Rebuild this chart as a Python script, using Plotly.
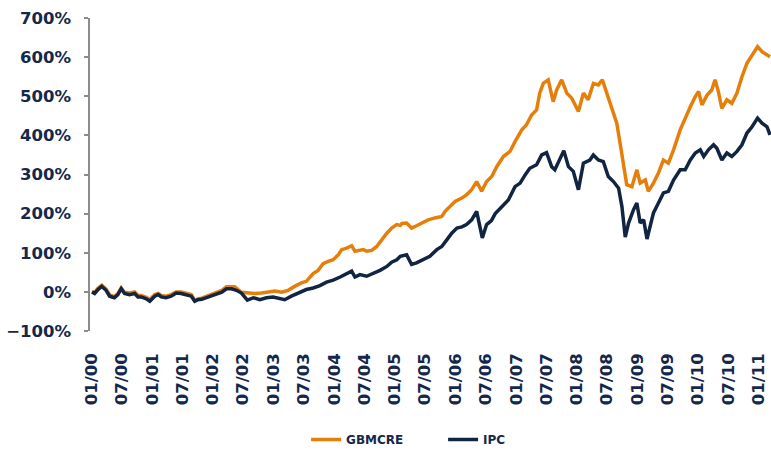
import plotly.graph_objects as go

# Cumulative return (%) since January 2000
gbmcre_dates = [
    "2000-01-03", "2000-01-19", "2000-02-08", "2000-03-02", "2000-03-28", "2000-04-18",
    "2000-05-17", "2000-06-07", "2000-06-27", "2000-07-17", "2000-08-16", "2000-09-16",
    "2000-10-06", "2000-10-26", "2000-11-25", "2000-12-16", "2001-01-15", "2001-02-05",
    "2001-02-23", "2001-03-24", "2001-04-24", "2001-05-24", "2001-06-23", "2001-07-23",
    "2001-08-23", "2001-09-13", "2001-10-02", "2001-10-25", "2001-12-03", "2002-01-13",
    "2002-02-23", "2002-03-23", "2002-05-12", "2002-06-21", "2002-08-01", "2002-09-10",
    "2002-10-20", "2002-11-29", "2003-01-09", "2003-02-19", "2003-03-29", "2003-05-08",
    "2003-06-17", "2003-07-17", "2003-08-27", "2003-09-26", "2003-10-26", "2003-11-26",
    "2003-12-26", "2004-01-26", "2004-02-15", "2004-03-16", "2004-04-15", "2004-05-05",
    "2004-06-04", "2004-06-24", "2004-07-14", "2004-08-14", "2004-09-13", "2004-10-13",
    "2004-11-13", "2004-12-12", "2005-01-12", "2005-02-02", "2005-02-12", "2005-03-12",
    "2005-04-11", "2005-05-11", "2005-06-11", "2005-07-20", "2005-08-30", "2005-10-10",
    "2005-10-30", "2005-11-29", "2005-12-29", "2006-02-08", "2006-03-08", "2006-04-08",
    "2006-05-08", "2006-06-07", "2006-07-07", "2006-08-07", "2006-09-06", "2006-10-16",
    "2006-11-25", "2006-12-25", "2007-02-04", "2007-03-04", "2007-04-04", "2007-05-04",
    "2007-05-23", "2007-06-13", "2007-07-13", "2007-08-12", "2007-09-02", "2007-10-02",
    "2007-11-02", "2007-12-02", "2008-01-11", "2008-02-10", "2008-03-10", "2008-04-10",
    "2008-05-10", "2008-06-03", "2008-06-29", "2008-07-29", "2008-08-29", "2008-09-18",
    "2008-10-08", "2008-10-28", "2008-11-28", "2008-12-28", "2009-01-17", "2009-02-17",
    "2009-03-07", "2009-04-07", "2009-05-07", "2009-06-06", "2009-07-06", "2009-08-06",
    "2009-09-15", "2009-10-15", "2009-11-15", "2009-12-15", "2010-01-04", "2010-01-24",
    "2010-02-24", "2010-03-24", "2010-04-13", "2010-05-03", "2010-05-24", "2010-06-23",
    "2010-07-23", "2010-08-23", "2010-09-22", "2010-10-22", "2010-11-22", "2010-12-25",
    "2011-01-21", "2011-02-20", "2011-03-10",
]
gbmcre_values = [
    0, -2, 9, 17, 7, -8,
    -12, -4, 10, -1, -3, 0,
    -9, -9, -14, -20, -7, -4,
    -9, -11, -7, 0, 0, -3,
    -7, -22, -18, -16, -9, -3,
    4, 13, 13, -1, -3, -4,
    -3, -1, 2, -1, 4, 14,
    23, 27, 47, 55, 72, 78,
    82, 95, 108, 112, 118, 104,
    106, 108, 104, 106, 116, 133,
    150, 163, 172, 170, 175, 176,
    163, 169, 176, 184, 189, 193,
    206, 218, 231, 240, 248, 261,
    282, 257, 282, 295, 320, 346,
    359, 384, 414, 427, 452, 465,
    508, 533, 542, 486, 516, 542,
    508, 495, 461, 508, 491, 533,
    529, 542, 508, 465, 431, 380,
    320, 274, 269, 312, 278, 286,
    257, 278, 304, 337, 329, 363,
    414, 444, 473, 499, 512, 478,
    503, 516, 542, 512, 469, 491,
    482, 508, 550, 584, 605, 627,
    614, 605, 601,
]

ipc_dates = [
    "2000-01-03", "2000-01-19", "2000-02-08", "2000-03-02", "2000-03-28", "2000-04-18",
    "2000-05-17", "2000-06-07", "2000-06-27", "2000-07-17", "2000-08-16", "2000-09-16",
    "2000-10-06", "2000-10-26", "2000-11-25", "2000-12-16", "2001-01-15", "2001-02-05",
    "2001-02-23", "2001-03-24", "2001-04-24", "2001-05-24", "2001-06-23", "2001-07-23",
    "2001-08-23", "2001-09-13", "2001-10-02", "2001-10-25", "2001-12-03", "2002-01-13",
    "2002-02-23", "2002-03-23", "2002-04-22", "2002-05-22", "2002-06-21", "2002-07-27",
    "2002-09-01", "2002-10-10", "2002-11-19", "2002-12-29", "2003-02-09", "2003-03-09",
    "2003-04-18", "2003-05-28", "2003-07-17", "2003-08-27", "2003-10-07", "2003-11-16",
    "2003-12-26", "2004-02-06", "2004-03-16", "2004-04-15", "2004-05-05", "2004-06-04",
    "2004-07-14", "2004-08-23", "2004-10-03", "2004-11-13", "2004-12-12", "2005-01-12",
    "2005-02-02", "2005-03-12", "2005-04-11", "2005-05-11", "2005-06-20", "2005-07-30",
    "2005-09-10", "2005-10-10", "2005-11-09", "2005-12-09", "2006-01-09", "2006-02-08",
    "2006-03-08", "2006-04-08", "2006-05-08", "2006-06-11", "2006-07-07", "2006-08-05",
    "2006-08-28", "2006-10-16", "2006-11-15", "2006-12-25", "2007-01-25", "2007-02-24",
    "2007-03-24", "2007-05-04", "2007-06-04", "2007-07-03", "2007-08-03", "2007-08-22",
    "2007-09-22", "2007-10-15", "2007-11-12", "2007-12-11", "2008-01-11", "2008-02-10",
    "2008-03-20", "2008-04-10", "2008-05-10", "2008-06-09", "2008-07-09", "2008-08-09",
    "2008-09-09", "2008-09-29", "2008-10-19", "2008-11-08", "2008-12-08", "2008-12-28",
    "2009-01-17", "2009-02-07", "2009-02-27", "2009-03-17", "2009-04-07", "2009-05-07",
    "2009-06-06", "2009-07-06", "2009-08-06", "2009-09-15", "2009-10-15", "2009-11-15",
    "2009-12-15", "2010-01-14", "2010-02-04", "2010-03-04", "2010-04-04", "2010-04-24",
    "2010-05-24", "2010-06-23", "2010-07-23", "2010-08-23", "2010-09-22", "2010-10-22",
    "2010-11-22", "2010-12-25", "2011-01-21", "2011-02-20", "2011-03-10",
]
ipc_values = [
    0, -4, 6, 14, 4, -11,
    -15, -7, 8, -4, -7, -4,
    -13, -13, -18, -24, -11, -7,
    -13, -15, -11, -3, -4, -7,
    -11, -24, -20, -19, -13, -7,
    -1, 8, 8, 4, -3, -21,
    -15, -20, -15, -13, -18, -20,
    -11, -3, 6, 10, 16, 25,
    30, 38, 47, 53, 38, 44,
    40, 47, 55, 65, 76, 82,
    91, 95, 70, 74, 82, 91,
    108, 116, 133, 150, 163, 166,
    172, 184, 206, 138, 172, 182,
    200, 223, 235, 269, 278, 299,
    316, 325, 350, 356, 320, 312,
    342, 361, 320, 308, 261, 329,
    337, 350, 337, 333, 295, 282,
    265, 218, 140, 176, 210, 227,
    176, 184, 135, 167, 202, 227,
    253, 257, 286, 312, 312, 337,
    355, 363, 346, 363, 376, 367,
    337, 355, 346, 359, 376, 406,
    422, 444, 431, 422, 401,
]

ORANGE = "#E67E0A"
NAVY = "#112542"
TEXT = "#14284B"
AXIS_GREY = "#8C8C8C"
FONT = "DejaVu Sans"

fig = go.Figure()
fig.add_trace(go.Scatter(
    x=gbmcre_dates, y=gbmcre_values, name="GBMCRE", mode="lines",
    line=dict(color=ORANGE, width=3.5),
))
fig.add_trace(go.Scatter(
    x=ipc_dates, y=ipc_values, name="IPC", mode="lines",
    line=dict(color=NAVY, width=3.5),
))

fig.update_layout(
    width=771, height=454,
    margin=dict(l=90, r=0, t=18, b=123),
    paper_bgcolor="white", plot_bgcolor="white",
    font=dict(family=FONT, color=TEXT),
    showlegend=True,
    legend=dict(
        orientation="h",
        xref="container", yref="container",
        x=0.397, xanchor="left",
        y=0.0, yanchor="bottom",
        font=dict(family=FONT, size=12, color=TEXT, weight="bold"),
        entrywidth=92,
        bgcolor="rgba(0,0,0,0)",
    ),
)

fig.update_xaxes(
    type="date",
    range=["1999-12-22", "2011-03-16"],
    tick0="2000-01-01", dtick="M6", tickformat="%m/%y",
    tickangle=-90,
    ticks="", ticklabelstandoff=18,
    showgrid=False, zeroline=False, showline=False,
    tickfont=dict(family=FONT, size=16.5, color=TEXT, weight="bold"),
)
fig.update_yaxes(
    range=[-100, 700], dtick=100, ticksuffix="%",
    showgrid=False, zeroline=False,
    showline=True, linecolor=AXIS_GREY, linewidth=1.5,
    ticks="outside", ticklen=4, tickcolor=AXIS_GREY, tickwidth=1.5,
    ticklabelstandoff=10,
    tickfont=dict(family=FONT, size=16.5, color=TEXT, weight="bold"),
)

fig.write_html("out.html")
